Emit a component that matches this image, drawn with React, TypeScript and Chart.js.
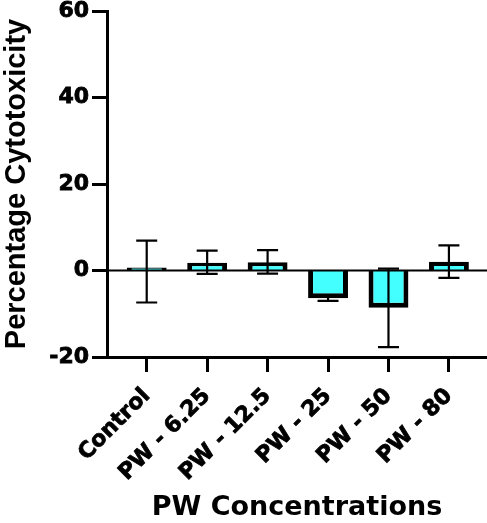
import React, { useEffect, useRef } from 'react';
import { Chart, registerables } from 'chart.js';

Chart.register(...registerables);

const categories = ['Control', 'PW - 6.25', 'PW - 12.5', 'PW - 25', 'PW - 50', 'PW - 80'];
const means = [0.7, 1.8, 1.9, -6.4, -8.6, 2.0];
const errHigh = [6.9, 4.6, 4.7, -5.8, 0.45, 5.8];
const errLow = [-7.4, -0.8, -0.7, -7.0, -17.7, -1.7];
const yTicks = [-20, 0, 20, 40, 60];

const tickFont = { family: 'DejaVu Sans', weight: 'bold' as const, size: 22 };

const overlayPlugin = {
  id: 'overlay',
  afterDatasetsDraw(chart: any) {
    const ctx = chart.ctx;
    const xs = chart.scales.x;
    const ys = chart.scales.y;
    const area = chart.chartArea;
    ctx.save();
    ctx.strokeStyle = '#000';
    // zero line
    ctx.lineWidth = 2;
    const y0 = ys.getPixelForValue(0);
    ctx.beginPath();
    ctx.moveTo(area.left, y0);
    ctx.lineTo(area.right, y0);
    ctx.stroke();
    // error bars
    ctx.lineWidth = 2.2;
    categories.forEach((_, i) => {
      const x = xs.getPixelForValue(i);
      const yH = ys.getPixelForValue(errHigh[i]);
      const yL = ys.getPixelForValue(errLow[i]);
      ctx.beginPath();
      ctx.moveTo(x, yH);
      ctx.lineTo(x, yL);
      ctx.moveTo(x - 10.5, yH);
      ctx.lineTo(x + 10.5, yH);
      ctx.moveTo(x - 10.5, yL);
      ctx.lineTo(x + 10.5, yL);
      ctx.stroke();
    });
    ctx.restore();
  },
};

export default function App() {
  const ref = useRef<HTMLCanvasElement>(null);
  useEffect(() => {
    if (!ref.current) return;
    const chart = new Chart(ref.current, {
      type: 'bar',
      data: {
        datasets: [
          {
            data: means.map((v, i) => ({ x: i, y: v })),
            backgroundColor: '#44FFFF',
            borderColor: '#000',
            borderWidth: 5,
            categoryPercentage: 1,
            barPercentage: 0.66,
          } as any,
        ],
      },
      options: {
        animation: false,
        responsive: true,
        maintainAspectRatio: false,
        layout: { padding: { top: 11, left: 0, right: 0, bottom: 0 } },
        plugins: { legend: { display: false }, tooltip: { enabled: false } },
        scales: {
          x: {
            type: 'linear',
            min: -0.657,
            max: 5.63,
            offset: false,
            afterBuildTicks: (s: any) => {
              s.ticks = categories.map((_, i) => ({ value: i }));
            },
            afterFit: (s: any) => {
              s.height = 166;
              s.paddingLeft = 0;
              s.paddingRight = 0;
            },
            ticks: {
              autoSkip: false,
              minRotation: 45,
              maxRotation: 45,
              padding: 19,
              color: '#000',
              textStrokeColor: '#000',
              textStrokeWidth: 0.8,
              font: { ...tickFont, lineHeight: 0.2 },
              callback: (_v: any, idx: number) => categories[idx],
            },
            grid: {
              offset: false,
              drawOnChartArea: false,
              drawTicks: true,
              tickLength: 15,
              tickWidth: 3,
              tickColor: '#000',
            },
            border: { display: true, color: '#000', width: 3 },
            title: {
              display: true,
              text: 'PW Concentrations',
              color: '#000',
              font: { family: 'DejaVu Sans', weight: 'bold', size: 27, lineHeight: 1 },
              padding: { top: 0, bottom: 1.5 },
            },
          } as any,
          y: {
            min: -20,
            max: 60,
            afterBuildTicks: (s: any) => {
              s.ticks = yTicks.map((v) => ({ value: v }));
            },
            afterFit: (s: any) => {
              s.width = 107;
              s.paddingTop = 0;
              s.paddingBottom = 0;
            },
            ticks: {
              padding: 3,
              color: '#000',
              textStrokeColor: '#000',
              textStrokeWidth: 0.8,
              font: tickFont,
            },
            grid: {
              drawOnChartArea: false,
              drawTicks: true,
              tickLength: 15,
              tickWidth: 3,
              tickColor: '#000',
            },
            border: { display: true, color: '#000', width: 3 },
            title: {
              display: true,
              text: 'Percentage Cytotoxicity',
              color: '#000',
              font: { family: 'Liberation Sans', weight: 'bold', size: 29, lineHeight: 1 },
              padding: { top: 2, bottom: 0 },
            },
          } as any,
        },
      },
      plugins: [overlayPlugin],
    });
    return () => chart.destroy();
  }, []);

  return (
    <div style={{ position: 'absolute', left: 0, top: 0, width: 487, height: 523, background: '#fff' }}>
      <canvas ref={ref} />
    </div>
  );
}
